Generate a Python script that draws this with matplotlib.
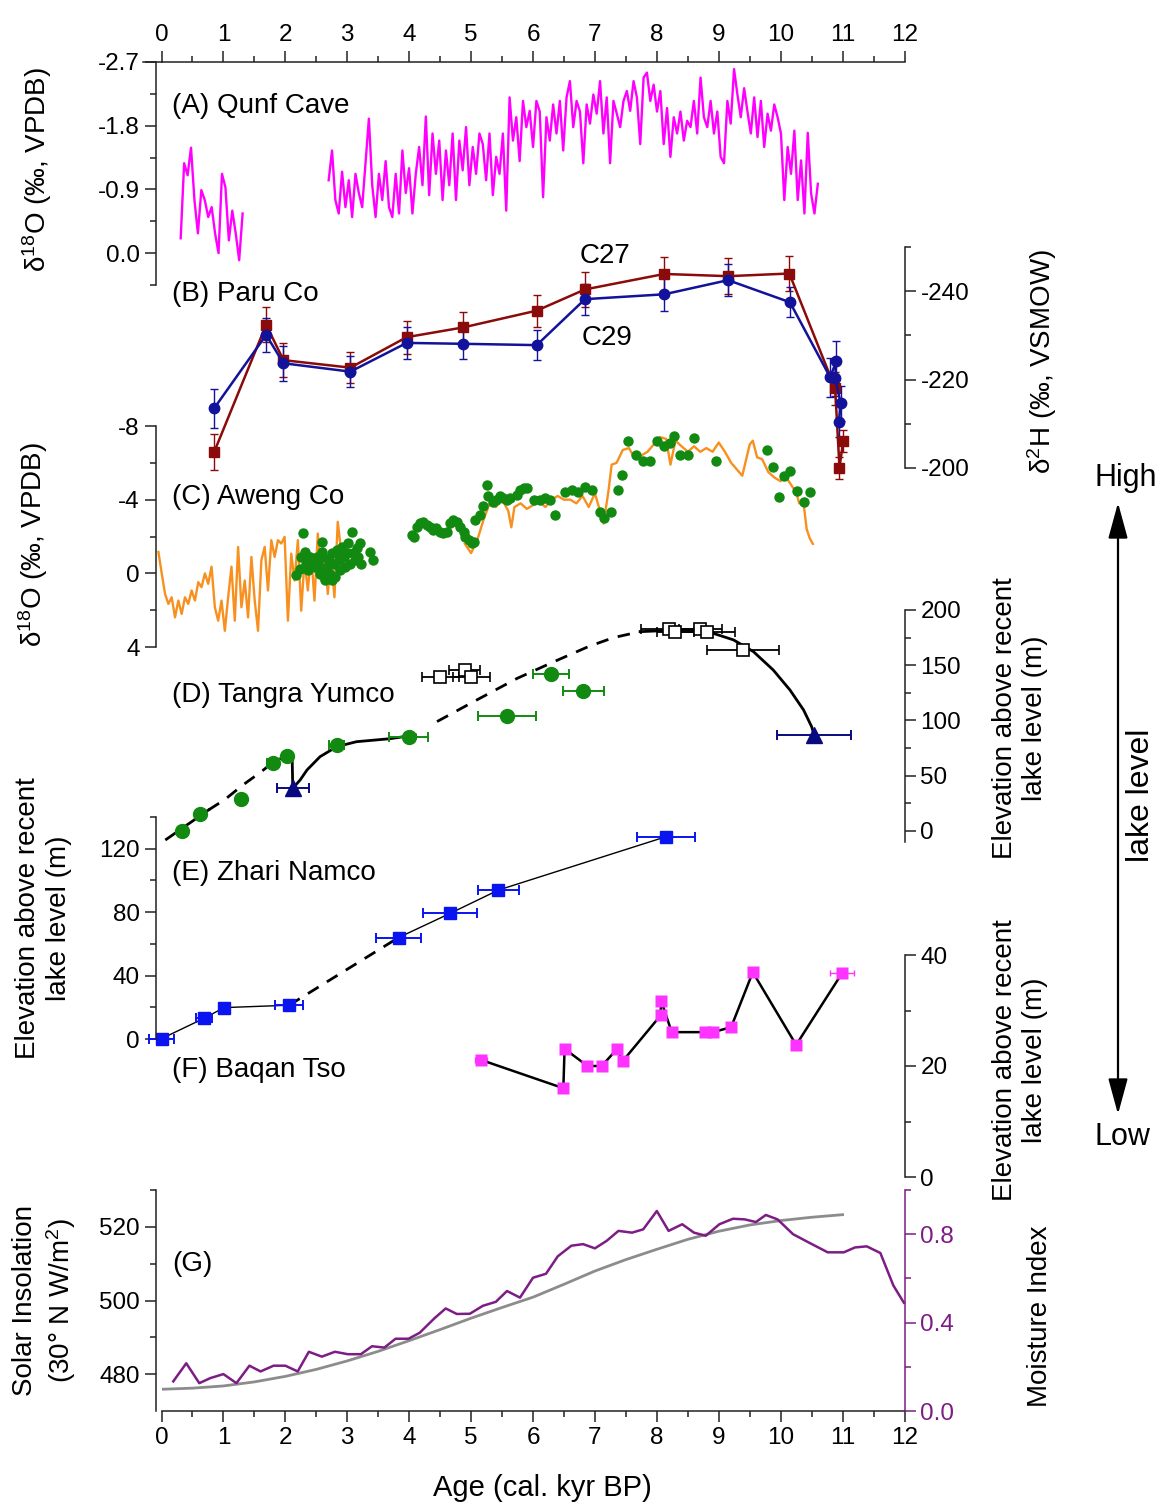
import numpy as np
import matplotlib
matplotlib.use("Agg")
import matplotlib.pyplot as plt
from matplotlib.ticker import FixedLocator, MultipleLocator
from matplotlib.patches import FancyArrowPatch

plt.rcParams['font.family'] = ['Liberation Sans', 'DejaVu Sans']
plt.rcParams['mathtext.fontset'] = 'custom'
plt.rcParams['mathtext.rm'] = 'Liberation Sans'
plt.rcParams['mathtext.it'] = 'Liberation Sans:italic'
plt.rcParams['axes.unicode_minus'] = False

# ---- (A) Qunf Cave d18O ----
qunf1_d18o = [-0.21, -1.27, -1.1, -1.49, -0.75, -0.28, -0.89, -0.75, -0.51, -0.65,
              -0.28, 0.0, -1.12, -0.93, -0.18, -0.6, -0.28, 0.1, -0.56]
qunf2_d18o = [-1.03, -1.45, -0.75, -0.56, -1.15, -0.65,
              -1.03, -0.51, -1.12, -0.85, -0.65, -1.27, -1.9, -0.96, -0.51, -1.12, -0.75,
              -1.3, -0.65, -0.51, -1.12, -0.56, -1.45, -0.85, -1.2, -0.56, -1.12,
              -1.5, -0.96, -1.93, -0.82, -1.69, -1.12, -1.59, -0.75, -1.45, -0.96,
              -1.69, -0.75, -1.59, -1.17, -1.78, -0.96, -1.5, -1.12, -1.69,
              -1.54, -1.03, -1.69, -0.82, -1.36, -1.12, -1.69, -0.6,
              -2.2, -1.59, -1.92, -1.3, -2.15, -1.78, -2.01, -1.5, -2.15,
              -2.0, -0.79, -1.92, -1.59, -2.1, -1.69, -2.15, -1.45, -2.2,
              -2.43, -1.78, -2.15, -2.0, -1.27, -2.1, -1.83, -2.24, -1.97,
              -2.43, -1.69, -2.2, -1.27, -2.15, -1.97, -1.78, -2.15, -2.29,
              -2.01, -2.43, -2.2, -1.54, -2.48, -2.55, -2.15, -2.38, -2.0,
              -2.29, -1.54, -2.05, -1.36, -1.92, -1.69, -2.0, -1.59, -1.87,
              -1.78, -2.15, -1.69, -2.48, -1.92, -1.78, -2.15, -1.69, -2.0,
              -1.36, -1.27, -2.15, -1.83, -2.6, -2.24, -1.92, -2.33, -2.0,
              -1.69, -2.2, -1.64, -2.15, -1.5, -1.97, -1.73, -2.1, -1.92,
              -1.69, -0.75, -1.5, -1.12, -1.73, -0.75, -1.31, -0.56, -1.7, -0.84, -0.56, -0.98]
qunf1_age = np.linspace(0.31, 1.31, len(qunf1_d18o))
qunf2_age = np.linspace(2.70, 10.60, len(qunf2_d18o))

# ---- (B) Paru Co dD ----
c29_age = [0.85, 1.69, 1.97, 3.05, 3.96, 4.87, 6.06, 6.84, 8.12, 9.15, 10.15, 10.80, 10.90, 10.88, 10.97, 10.94]
c29_dd = [-213.5, -230.1, -223.7, -221.8, -228.3, -228.1, -227.8, -238.2, -239.3, -242.5, -237.5,
          -220.5, -224.3, -220.3, -214.6, -210.5]
c29_err = [4.4, 3.9, 4.0, 3.5, 3.7, 3.5, 3.4, 3.5, 3.8, 3.6, 3.4, 4.5, 4.5, 4.0, 4.0, 3.5]
c27_age = [0.85, 1.69, 1.97, 3.05, 3.96, 4.87, 6.06, 6.84, 8.12, 9.15, 10.14, 10.88, 10.95, 11.01]
c27_dd = [-203.6, -232.4, -224.4, -222.7, -229.6, -231.8, -235.6, -240.4, -243.9, -243.4, -244.0,
          -218.0, -200.1, -206.1]
c27_err = [4.1, 4.0, 3.8, 3.5, 3.7, 3.5, 3.6, 4.0, 3.8, 4.0, 3.9, 3.8, 2.5, 2.5]

# ---- (C) Aweng Co d18O ----
aweng1_d18o = [-1.16, 0.0, 1.12, 1.66, 1.3, 2.39, 1.48, 2.2, 1.3, 1.66, 0.93, 1.48, 0.48, 0.75,
               0.0, 0.57, -0.36, 1.84, 2.57, 1.48, 3.12, 1.3, -0.36, 2.57, -1.43, 1.84, 0.39,
               2.39, -0.89, 1.48, 3.12, -0.71, -1.43, 0.93, -1.8, -0.89, -1.8, -1.62, -1.98,
               2.57, -1.07, 0.39, -1.8, 2.03, -0.71, 0.93, -1.07, 1.48, -2.16, 0.39, -1.25,
               1.12, -0.89, 1.3, -2.8, -1.25]
aweng1_age = np.linspace(-0.05, 2.90, len(aweng1_d18o))
aweng2_age = [4.9, 5.0, 5.1, 5.2, 5.3, 5.4, 5.5, 5.6, 5.65, 5.7, 5.8, 5.9, 6.0, 6.1, 6.2, 6.3,
              6.4, 6.5, 6.6, 6.7, 6.8, 6.9, 7.0, 7.14, 7.22, 7.27, 7.35, 7.45, 7.55, 7.65, 7.75,
              7.85, 7.95, 8.05, 8.15, 8.22, 8.3, 8.4, 8.5, 8.6, 8.7, 8.8, 8.9, 9.0, 9.1, 9.2,
              9.38, 9.5, 9.55, 9.62, 9.7, 9.8, 9.9, 10.0, 10.05, 10.15, 10.25, 10.3, 10.37,
              10.42, 10.47, 10.52]
aweng2_d18o = [-1.6, -1.1, -1.8, -2.9, -3.8, -3.6, -4.0, -3.4, -2.5, -3.6, -3.8, -3.5, -3.7,
               -3.9, -3.6, -4.0, -4.2, -4.0, -4.0, -3.8, -4.2, -3.6, -4.35, -2.7, -4.5, -5.9,
               -6.0, -6.7, -6.8, -6.2, -6.4, -6.6, -7.0, -7.4, -7.3, -5.9, -7.2, -6.9, -6.6,
               -6.9, -6.6, -6.8, -6.6, -7.1, -6.6, -6.0, -5.3, -7.0, -7.2, -6.3, -6.2, -5.5,
               -5.2, -5.0, -5.4, -4.9, -4.4, -3.8, -3.8, -2.4, -1.9, -1.6]
aweng_dot_age = [2.18, 2.23, 2.26, 2.29, 2.32, 2.34, 2.37, 2.40, 2.43, 2.45, 2.48, 2.51, 2.53,
                 2.56, 2.59, 2.60, 2.61, 2.64, 2.67, 2.70, 2.72, 2.75, 2.78, 2.80, 2.83, 2.86,
                 2.88, 2.91, 2.94, 2.96, 2.99, 3.02, 3.04, 3.07, 3.10, 3.13, 3.15, 3.18, 3.21,
                 3.23, 3.37, 3.42, 2.75, 2.64, 2.88,
                 4.04, 4.07, 4.12, 4.18, 4.23, 4.28, 4.34, 4.39, 4.44, 4.50, 4.55, 4.61, 4.66,
                 4.71, 4.77, 4.82, 4.88, 4.90, 4.96, 5.01, 5.04, 5.07, 5.15, 5.20, 5.25, 5.28,
                 5.36, 5.41, 5.47, 5.52, 5.58, 5.63, 5.74, 5.79, 5.85, 5.90, 6.01, 6.11, 6.20,
                 6.28, 6.36, 6.52, 6.63, 6.73, 6.84, 6.96, 7.08, 7.14, 7.26, 7.37, 7.43, 7.54,
                 7.67, 7.78, 7.89, 8.01, 8.12, 8.21, 8.28, 8.38, 8.51, 8.60, 8.95, 9.78, 9.87,
                 9.97, 10.06, 10.15, 10.26, 10.37, 10.48]
aweng_dot_d18o = [0.11, -0.26, -0.89, -2.17, -1.17, -0.53, -0.16, -0.89, -0.53, -0.71, -0.35,
                  -0.89, -0.53, 0.02, -1.17, -1.71, -0.89, 0.38, -0.35, -0.71, 0.02, -1.08,
                  -0.53, 0.20, -1.26, -0.71, -0.16, -1.44, -0.89, -0.35, -1.08, -1.62, -0.53,
                  -2.26, -1.08, -0.71, -1.35, -0.89, -1.62, -0.53, -1.17, -0.71, 0.38, -0.16,
                  -1.08,
                  -2.08, -1.99, -2.54, -2.72, -2.81, -2.62, -2.54, -2.35, -2.44, -2.26, -2.17,
                  -2.26, -2.72, -2.90, -2.81, -2.54, -2.26, -1.99, -1.80, -1.62, -1.71, -2.90,
                  -3.17, -3.63, -4.81, -4.18, -3.90, -3.99, -4.18, -4.08, -3.99, -4.08, -4.26,
                  -4.54, -4.63, -4.63, -3.99, -3.99, -4.08, -3.99, -3.17, -4.44, -4.54, -4.44,
                  -4.68, -4.54, -3.35, -2.99, -3.35, -4.54, -5.36, -7.18, -6.45, -6.08, -6.08,
                  -7.21, -6.90, -7.09, -7.45, -6.45, -6.45, -7.36, -6.08, -6.68, -5.76, -4.17,
                  -5.26, -5.54, -4.48, -3.90, -4.39]

# ---- (D) Tangra Yumco lake level ----
tangra_green_age = [0.33, 0.62, 1.28, 1.80, 2.02, 2.83, 3.99, 5.58, 6.29, 6.81]
tangra_green_elev = [0.3, 15.4, 29.0, 61.3, 67.9, 77.8, 84.8, 104.3, 141.8, 126.7]
tangra_green_err = [0.05, 0.05, 0.0, 0.10, 0.05, 0.12, 0.31, 0.47, 0.29, 0.33]
tangra_sq_age = [4.50, 4.90, 5.00, 8.19, 8.30, 8.70, 8.81, 9.39]
tangra_sq_elev = [139.6, 145.7, 139.6, 182.5, 179.8, 182.5, 179.8, 163.8]
tangra_sq_err = [0.30, 0.25, 0.30, 0.45, 0.30, 0.35, 0.45, 0.58]
tangra_tri_age = [2.13, 10.54]
tangra_tri_elev = [38.6, 86.9]
tangra_tri_err = [0.26, 0.60]
tangra_solid_a_age = [0.08, 0.76]
tangra_solid_a_elev = [-7.5, 19.0]
tangra_dash_a_age = [0.76, 1.03, 1.30, 1.62, 1.81]
tangra_dash_a_elev = [19.0, 28.7, 41.0, 54.0, 62.7]
tangra_solid_b_age = [1.81, 2.02, 2.11, 2.12, 2.24, 2.35, 2.56, 2.83, 3.15, 3.69, 4.10]
tangra_solid_b_elev = [62.7, 67.9, 67.2, 38.6, 46.2, 55.2, 67.2, 76.3, 80.8, 83.5, 86.9]
tangra_dash_b_age = [4.45, 5.04, 5.74, 6.33, 6.90, 7.30, 7.73]
tangra_dash_b_elev = [99.0, 117.0, 138.0, 153.0, 167.0, 175.0, 180.4]
tangra_solid_c_age = [7.73, 8.19, 8.70, 8.91, 9.24, 9.56, 9.88, 10.15, 10.37, 10.50, 10.54]
tangra_solid_c_elev = [180.4, 181.5, 181.9, 178.9, 172.9, 162.3, 145.7, 127.6, 109.5, 94.4, 86.9]

# ---- (E) Zhari Namco lake level ----
zhari_age = [0.0, 0.69, 1.01, 2.06, 3.83, 4.66, 5.44, 8.15]
zhari_elev = [0.2, 13.1, 19.8, 21.3, 64.0, 79.2, 93.9, 127.6]
zhari_err = [0.20, 0.13, 0.05, 0.22, 0.36, 0.43, 0.33, 0.47]

# ---- (F) Baqan Tso lake level ----
baqan_age = [5.16, 6.49, 6.51, 6.88, 7.11, 7.36, 7.45, 8.06, 8.07, 8.24, 8.77, 8.91, 9.20, 9.55, 10.25, 10.99]
baqan_elev = [21.1, 16.0, 23.1, 20.0, 20.0, 23.1, 20.9, 29.1, 31.8, 26.1, 26.1, 26.1, 27.0, 36.9, 23.8, 36.7]
baqan_err = [0.1, 0, 0, 0, 0, 0, 0, 0, 0, 0, 0, 0, 0, 0, 0, 0.2]

# ---- (G) insolation and moisture index ----
insol_age = [0, 0.5, 1, 1.5, 2, 2.5, 3, 3.5, 4, 4.5, 5, 5.5, 6, 6.5, 7, 7.5, 8, 8.5, 9, 9.5, 10, 10.5, 11]
insol = [475.9, 476.2, 476.8, 477.9, 479.4, 481.3, 483.6, 486.2, 489.1, 492.1, 495.2, 498.1,
         500.9, 504.4, 508.0, 511.1, 513.9, 516.6, 518.8, 520.5, 521.7, 522.6, 523.3]
moist_age = [0.19, 0.40, 0.61, 0.79, 1.00, 1.21, 1.42, 1.60, 1.81, 2.00, 2.20, 2.38, 2.59, 2.80,
             3.01, 3.22, 3.40, 3.60, 3.78, 3.99, 4.17, 4.41, 4.59, 4.77, 4.98, 5.19, 5.40, 5.58,
             5.79, 6.00, 6.21, 6.40, 6.62, 6.81, 7.00, 7.19, 7.38, 7.60, 7.78, 8.00, 8.19, 8.41,
             8.60, 8.79, 9.01, 9.23, 9.42, 9.60, 9.76, 9.95, 10.20, 10.45, 10.76, 11.02, 11.20,
             11.39, 11.61, 11.82, 11.99]
moist = [0.134, 0.216, 0.126, 0.149, 0.167, 0.126, 0.205, 0.179, 0.205, 0.205, 0.179, 0.268,
         0.246, 0.268, 0.257, 0.257, 0.293, 0.287, 0.327, 0.327, 0.354, 0.420, 0.464, 0.439,
         0.440, 0.476, 0.494, 0.543, 0.513, 0.603, 0.621, 0.700, 0.748, 0.755, 0.736, 0.770,
         0.815, 0.807, 0.822, 0.905, 0.815, 0.845, 0.807, 0.793, 0.845, 0.870, 0.867, 0.855,
         0.887, 0.867, 0.800, 0.763, 0.718, 0.718, 0.740, 0.745, 0.715, 0.568, 0.490]

W, H = 1168, 1506
fig = plt.figure(figsize=(W / 100, H / 100), dpi=100)
FS_TICK = 17.5
FS_LAB = 20


def panel(top, bot):
    ax = fig.add_axes([161.5 / W, 1 - bot / H, 743 / W, (bot - top) / H])
    ax.set_xlim(0, 12)
    ax.patch.set_alpha(0)
    for s in ax.spines.values():
        s.set_visible(False)
    ax.tick_params(axis='x', which='both', bottom=False, labelbottom=False)
    ax.tick_params(axis='y', which='both', left=False, labelleft=False)
    return ax


def yaxis(ax, side, major, minor, color='#222222'):
    sp = ax.spines[side]
    sp.set_visible(True)
    sp.set_linewidth(1.1)
    sp.set_color(color)
    if side == 'left':
        sp.set_position(('outward', 4.3))
    ax.yaxis.set_ticks_position(side)
    ax.yaxis.set_major_locator(FixedLocator(major))
    ax.yaxis.set_minor_locator(FixedLocator(minor))
    ax.tick_params(axis='y', which='both', direction='out', colors=color, labelsize=FS_TICK,
                   width=1.1, left=(side == 'left'), right=(side == 'right'),
                   labelleft=(side == 'left'), labelright=(side == 'right'))
    ax.tick_params(axis='y', which='major', length=8)
    ax.tick_params(axis='y', which='minor', length=4.5)
    for t in ax.get_yticklabels():
        t.set_color('black' if color == '#222222' else color)


def xaxis(ax, side):
    sp = ax.spines[side]
    sp.set_visible(True)
    sp.set_linewidth(1.1)
    sp.set_color('#222222')
    ax.xaxis.set_ticks_position(side)
    ax.xaxis.set_major_locator(MultipleLocator(1))
    ax.xaxis.set_minor_locator(MultipleLocator(0.5))
    ax.tick_params(axis='x', which='both', direction='out', labelsize=FS_TICK, width=1.1,
                   colors='#222222', top=(side == 'top'), bottom=(side == 'bottom'),
                   labeltop=(side == 'top'), labelbottom=(side == 'bottom'))
    ax.tick_params(axis='x', which='major', length=8)
    ax.tick_params(axis='x', which='minor', length=4.5)
    for t in ax.get_xticklabels():
        t.set_color('black')


def noclip(ax):
    for art in ax.get_children():
        try:
            art.set_clip_on(False)
        except AttributeError:
            pass
    for ln in ax.lines:
        ln.set_clip_on(False)
    for c in ax.collections:
        c.set_clip_on(False)


def ftext(x, y, s, **kw):
    fig.text(x / W, 1 - y / H, s, **kw)


# (A)
axA = panel(62, 285)
axA.set_ylim(0.45, -2.7)
yaxis(axA, 'left', [-2.7, -1.8, -0.9, 0.0], [-2.25, -1.35, -0.45, 0.45])
xaxis(axA, 'top')
axA.plot(qunf1_age, qunf1_d18o, color='#ff00ff', lw=1.7)
axA.plot(qunf2_age, qunf2_d18o, color='#ff00ff', lw=1.7)
noclip(axA)

# (B)
axB = panel(247, 468)
axB.set_ylim(-200, -250)
yaxis(axB, 'right', [-240, -220, -200], [-250, -230, -210])
axB.errorbar(c27_age, c27_dd, yerr=c27_err, color='#8b0a0a', marker='s', ms=6.5, lw=1.8,
             elinewidth=1.0, capsize=3, capthick=1.0)
axB.errorbar(c29_age, c29_dd, yerr=c29_err, color='#12129a', marker='o', ms=7.5, lw=1.8,
             elinewidth=1.0, capsize=3, capthick=1.0)
noclip(axB)

# (C)
axC = panel(426, 647)
axC.set_ylim(4, -8)
yaxis(axC, 'left', [-8, -4, 0, 4], [-6, -2, 2])
axC.plot(aweng1_age, aweng1_d18o, color='#f7901e', lw=1.7)
axC.plot(aweng2_age, aweng2_d18o, color='#f7901e', lw=1.7)
axC.plot(aweng_dot_age, aweng_dot_d18o, 'o', color='#128a12', ms=7.5, mec='none')
noclip(axC)

# (D)
axD = panel(610, 842)
axD.set_ylim(-10, 200)
yaxis(axD, 'right', [0, 50, 100, 150, 200], [25, 75, 125, 175])
axD.plot(tangra_solid_a_age, tangra_solid_a_elev, color='black', lw=2)
axD.plot(tangra_dash_a_age, tangra_dash_a_elev, color='black', lw=2, ls=(0, (4.5, 3.5)))
axD.plot(tangra_solid_b_age, tangra_solid_b_elev, color='black', lw=2)
axD.plot(tangra_dash_b_age, tangra_dash_b_elev, color='black', lw=2, ls=(0, (4.5, 3.5)))
axD.plot(tangra_solid_c_age, tangra_solid_c_elev, color='black', lw=2)
axD.errorbar(tangra_green_age, tangra_green_elev, xerr=tangra_green_err, fmt='o', color='#128a12',
             ms=10, elinewidth=1.4, capsize=3.5, capthick=1.4)
axD.errorbar(tangra_sq_age, tangra_sq_elev, xerr=tangra_sq_err, fmt='s', color='black', mfc='white',
             mec='black', mew=1.2, ms=8.5, elinewidth=1.3, capsize=3.5, capthick=1.3)
axD.errorbar(tangra_tri_age, tangra_tri_elev, xerr=tangra_tri_err, fmt='^', color='#0a0a80',
             ms=11, elinewidth=1.4, capsize=3.5, capthick=1.4)
noclip(axD)

# (E)
axE = panel(817, 1039)
axE.set_ylim(0, 140)
yaxis(axE, 'left', [0, 40, 80, 120], [20, 60, 100, 140])
axE.plot(zhari_age[:4], zhari_elev[:4], color='black', lw=1.0)
axE.plot(zhari_age[3:5], zhari_elev[3:5], color='black', lw=2, ls=(0, (4.5, 3.5)))
axE.plot(zhari_age[4:], zhari_elev[4:], color='black', lw=1.0)
axE.errorbar(zhari_age, zhari_elev, xerr=zhari_err, fmt='s', color='#0a14f0', ms=9,
             elinewidth=1.4, capsize=3.5, capthick=1.4)
noclip(axE)

# (F)
axF = panel(955, 1177)
axF.set_ylim(0, 40)
yaxis(axF, 'right', [0, 20, 40], [10, 30])
axF.errorbar(baqan_age, baqan_elev, xerr=baqan_err, fmt='s', color='#ff33ff', ms=8.5, mec='none',
             elinewidth=1.0, capsize=2.5)
axF.plot(baqan_age, baqan_elev, color='black', lw=1.8)
noclip(axF)

# (G)
axG = panel(1190, 1411)
axG.set_ylim(470, 530)
yaxis(axG, 'left', [480, 500, 520], [490, 510, 530])
xaxis(axG, 'bottom')
axG.plot(insol_age, insol, color='#8c8c8c', lw=2)
axG2 = axG.twinx()
axG2.set_xlim(0, 12)
axG2.set_ylim(0, 1.0)
for s in axG2.spines.values():
    s.set_visible(False)
axG2.tick_params(axis='y', which='both', left=False, labelleft=False)
yaxis(axG2, 'right', [0.0, 0.4, 0.8], [0.2, 0.6, 1.0], color='#7d1c84')
axG2.plot(moist_age, moist, color='#7d1c84', lw=1.8)
noclip(axG2)

# top axis line runs a little past the left spine, as in the source figure
fig.add_artist(plt.Line2D([143 / W, 161.5 / W], [1 - 62 / H, 1 - 62 / H], color='#222222', lw=1.1))

# panel labels
for y, s in [(106, '(A) Qunf Cave'), (294, '(B) Paru Co'), (497, '(C) Aweng Co'),
             (695, '(D) Tangra Yumco'), (873, '(E) Zhari Namco'), (1070, '(F) Baqan Tso'),
             (1264, '(G)')]:
    ftext(172, y, s, fontsize=FS_LAB, ha='left', va='center')
ftext(580, 256, 'C27', fontsize=FS_LAB, ha='left', va='center')
ftext(582, 338, 'C29', fontsize=FS_LAB, ha='left', va='center')

# axis titles
rot = dict(rotation=90, ha='center', va='center', multialignment='center', fontsize=FS_LAB,
           linespacing=1.25)
ftext(37, 170, 'δ$^{18}$O (‰, VPDB)', **rot)
ftext(33, 545, 'δ$^{18}$O (‰, VPDB)', **rot)
ftext(1042, 362, 'δ$^{2}$H (‰, VSMOW)', **rot)
ftext(1020, 718, 'Elevation above recent\nlake level (m)', **rot)
ftext(44, 918, 'Elevation above recent\nlake level (m)', **rot)
ftext(1020, 1060, 'Elevation above recent\nlake level (m)', **rot)
ftext(45, 1300, 'Solar Insolation\n(30° N W/m$^2$)', **rot)
ftext(1040, 1316, 'Moisture Index', **rot)
ftext(542, 1488, 'Age (cal. kyr BP)', fontsize=FS_LAB + 1, ha='center', va='center')

# lake level arrow
arrow = FancyArrowPatch((1118 / W, 1 - 500 / H), (1118 / W, 1 - 1117 / H),
                        transform=fig.transFigure, arrowstyle='<|-|>,head_length=1.1,head_width=0.3',
                        mutation_scale=20, color='black', lw=1.6)
fig.add_artist(arrow)
ftext(1126, 478, 'High', fontsize=22, ha='center', va='center')
ftext(1122, 1137, 'Low', fontsize=22, ha='center', va='center')
ftext(1141, 795, 'lake level', fontsize=23, rotation=90, ha='center', va='center')

fig.savefig('out.png', dpi=100)
